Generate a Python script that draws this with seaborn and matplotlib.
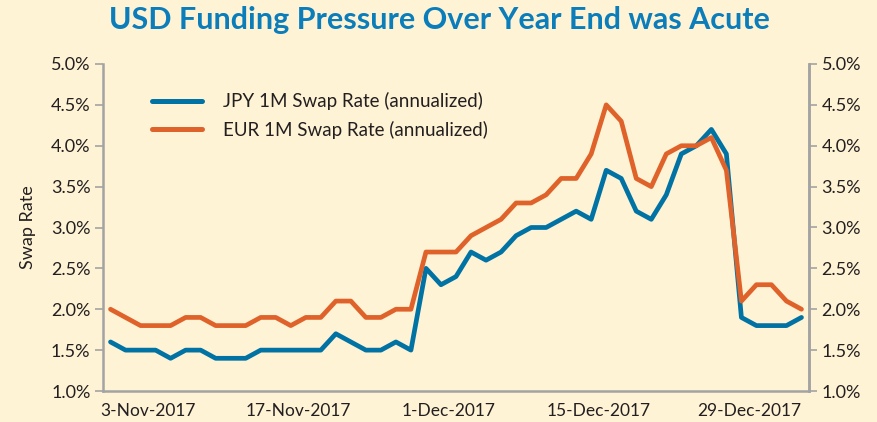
import matplotlib
matplotlib.use("Agg")
import matplotlib.pyplot as plt
import seaborn as sns
import pandas as pd
import numpy as np

# ---- data ----
dates = pd.bdate_range("2017-10-31", periods=47)
jpy = [1.6, 1.5, 1.5, 1.5, 1.4, 1.5, 1.5, 1.4, 1.4, 1.4,
       1.5, 1.5, 1.5, 1.5, 1.5, 1.7, 1.6, 1.5, 1.5, 1.6,
       1.5, 2.5, 2.3, 2.4, 2.7, 2.6, 2.7, 2.9, 3.0, 3.0,
       3.1, 3.2, 3.1, 3.7, 3.6, 3.2, 3.1, 3.4, 3.9, 4.0,
       4.2, 3.9, 1.9, 1.8, 1.8, 1.8, 1.9]
eur = [2.0, 1.9, 1.8, 1.8, 1.8, 1.9, 1.9, 1.8, 1.8, 1.8,
       1.9, 1.9, 1.8, 1.9, 1.9, 2.1, 2.1, 1.9, 1.9, 2.0,
       2.0, 2.7, 2.7, 2.7, 2.9, 3.0, 3.1, 3.3, 3.3, 3.4,
       3.6, 3.6, 3.9, 4.5, 4.3, 3.6, 3.5, 3.9, 4.0, 4.0,
       4.1, 3.7, 2.1, 2.3, 2.3, 2.1, 2.0]
series_names = ["JPY 1M Swap Rate (annualized)", "EUR 1M Swap Rate (annualized)"]
tick_dates = ["2017-11-03", "2017-11-17", "2017-12-01", "2017-12-15", "2017-12-29"]
tick_labels = ["3-Nov-2017", "17-Nov-2017", "1-Dec-2017", "15-Dec-2017", "29-Dec-2017"]
y_ticks = [1.0, 1.5, 2.0, 2.5, 3.0, 3.5, 4.0, 4.5, 5.0]

BG = "#FFF3D5"
BLUE = "#0072A3"
ORANGE = "#E0622B"
TITLE = "#0A7DBA"
SPINE = "#A3A3A3"
TXT = "#231F20"

sns.set_style("white")
plt.rcParams["font.family"] = ["Lato", "DejaVu Sans"]

idx = np.arange(len(dates))
df = pd.DataFrame({
    "i": np.concatenate([idx, idx]),
    "rate": jpy + eur,
    "series": [series_names[0]] * len(jpy) + [series_names[1]] * len(eur),
})

fig = plt.figure(figsize=(8.78, 4.22), dpi=100, facecolor=BG)
ax = fig.add_axes([103 / 878, 1 - 391 / 422, 706 / 878, (391 - 64) / 422])
ax.set_facecolor(BG)

sns.lineplot(data=df, x="i", y="rate", hue="series",
             palette={series_names[0]: BLUE, series_names[1]: ORANGE},
             linewidth=3.4, ax=ax, legend=True)

ax.set_xlim(-0.5, len(dates) - 0.5)
ax.set_ylim(1.0, 5.0)

pos = [list(dates).index(pd.Timestamp(d)) - 0.5 for d in tick_dates]
ax.set_xticks(pos)
ax.set_xticklabels(tick_labels, fontsize=12.5, color=TXT)
ax.set_yticks(y_ticks)
ax.set_yticklabels([f"{v:.1f}%" for v in y_ticks], fontsize=13, color=TXT)
ax.set_xlabel("")
ax.set_ylabel("Swap Rate", fontsize=13, color=TXT, labelpad=11)

for s in ["top"]:
    ax.spines[s].set_visible(False)
for s in ["left", "bottom", "right"]:
    ax.spines[s].set_color(SPINE)
    ax.spines[s].set_linewidth(1.8)
ax.tick_params(axis="both", direction="out", length=6, width=1.2, color=SPINE, pad=3)

ax2 = ax.twinx()
ax2.set_ylim(1.0, 5.0)
ax2.set_yticks(y_ticks)
ax2.set_yticklabels([f"{v:.1f}%" for v in y_ticks], fontsize=13, color=TXT)
for s in ["top", "left", "bottom"]:
    ax2.spines[s].set_visible(False)
ax2.spines["right"].set_color(SPINE)
ax2.spines["right"].set_linewidth(1.8)
ax2.tick_params(axis="y", direction="out", length=6, width=1.2, color=SPINE, pad=3)

leg = ax.legend(loc="upper left", bbox_to_anchor=(0.045, 0.965), frameon=False,
                fontsize=13.5, handlelength=2.7, handletextpad=1.1, labelspacing=0.55)
for h in leg.legend_handles:
    h.set_linewidth(3.6)
for t in leg.get_texts():
    t.set_color(TXT)

fig.text(0.5, 0.952, "USD Funding Pressure Over Year End was Acute",
         ha="center", va="center", fontsize=22, fontweight="bold", color=TITLE)

fig.savefig("out.png", dpi=100, facecolor=BG)
